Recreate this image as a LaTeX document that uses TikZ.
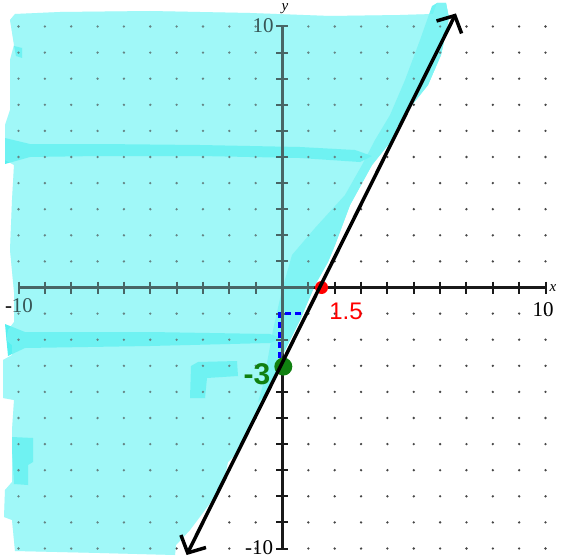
\documentclass[tikz,border=0pt]{standalone}
\usepackage{fontspec}
\setmainfont{Liberation Serif}
\newfontfamily\handfont{Liberation Sans}
\usetikzlibrary{arrows.meta}
\definecolor{hl}{RGB}{160,248,248}
\definecolor{hldark}{RGB}{86,240,240}
\definecolor{hlmid}{RGB}{112,243,243}
\definecolor{hgreen}{RGB}{16,128,16}
\definecolor{dotgray}{RGB}{70,70,70}
\definecolor{axisblack}{RGB}{25,25,25}
\def\hlregion{(15,14) -- (60,12) -- (150,11) -- (250,13) -- (330,16) -- (400,15) -- (433,14) -- (437,3) -- (446,3) -- (449,18) -- (441,55) -- (428,85) -- (412,105) -- (398,125) -- (392,140) -- (372,165) -- (350,205) -- (335,245) -- (328,262) -- (315,285) -- (300,320) -- (285,350) -- (270,385) -- (255,420) -- (240,450) -- (228,462) -- (223,485) -- (205,510) -- (190,530) -- (176,545) -- (175,555) -- (100,553) -- (15,551) -- (12,520) -- (4,517) -- (5,490) -- (12,482) -- (12,430) -- (14,400) -- (3,398) -- (3,360) -- (12,355) -- (12,345) -- (6,340) -- (8,330) -- (14,322) -- (14,292) -- (10,250) -- (12,200) -- (14,165) -- (5,160) -- (5,125) -- (10,110) -- (10,60) -- (14,45) -- (10,20) -- cycle}
\tikzset{
  axisline/.style={axisblack, line width=3pt},
  tickmark/.style={axisblack, line width=2pt},
  axislabel/.style={inner sep=0pt, font=\fontsize{21}{21}\selectfont},
  varlabel/.style={inner sep=0pt, font=\fontsize{15}{15}\selectfont\itshape},
  handline/.style={black, line width=3.5pt, line cap=round,
    {Straight Barb[length=13pt,width=28pt]}-{Straight Barb[length=13pt,width=28pt]}},
  slopedash/.style={blue, line width=2.5pt, dash pattern=on 6pt off 4pt},
}
\begin{document}
\begin{tikzpicture}[x=1pt,y=-1pt]
\useasboundingbox (0,0) rectangle (561,559);
% highlight base
\fill[hl] \hlregion;
% darker overlapping strokes
\fill[hlmid] (432,6) -- (420,40) -- (405,80) -- (390,115) -- (375,140) -- (362,165) -- (345,195) -- (315,228) -- (292,255) -- (282,290) -- (273,330) -- (263,385) -- (258,402) -- (268,392) -- (285,350) -- (300,320) -- (315,285) -- (328,262) -- (335,245) -- (350,205) -- (372,165) -- (392,140) -- (398,125) -- (412,105) -- (428,85) -- (441,55) -- (449,18) -- (446,3) -- (437,3) -- cycle;
\fill[hldark] (5,138) -- (30,144) -- (100,144) -- (200,145) -- (300,147) -- (355,150) -- (372,156) -- (360,162) -- (300,158) -- (200,156) -- (100,156) -- (30,157) -- (5,164) -- cycle;
\fill[hldark] (5,324) -- (25,332) -- (150,332) -- (270,334) -- (282,338) -- (270,343) -- (150,346) -- (25,348) -- (8,356) -- cycle;
\fill[hldark] (191,366) -- (198,362) -- (237,361) -- (238,376) -- (207,378) -- (205,398) -- (190,398) -- cycle;
\fill[hldark] (14,46) -- (22,48) -- (22,58) -- (16,56) -- cycle;
\fill[hldark] (12,437) -- (33,438) -- (33,462) -- (28,465) -- (28,485) -- (14,484) -- (13,466) -- (12,450) -- cycle;
% grid, axes
\begin{scope}[shift={(282,287.5)}, x=26.35pt, y=26.1pt]
  \foreach \i in {-10,...,10} {
    \foreach \j in {-10,...,10} {
      \ifnum\i=0 \else\ifnum\j=0 \else
        \fill[dotgray] (\i,\j) circle[radius=1.3pt];
      \fi\fi
    }
  }
  \draw[axisline] (-10,0) -- (10,0);
  \draw[axisline] (0,-10) -- (0,10);
  \foreach \i in {-10,...,10} {
    \draw[tickmark] (\i,0) ++(0,6pt) -- ++(0,-12pt);
    \draw[tickmark] (0,\i) ++(-6pt,0) -- ++(12pt,0);
  }
  \coordinate (lo) at (-3.62,-10.25);
  \coordinate (hi) at (6.6,10.5);
  \coordinate (d1) at (-0.1,-2.7);
  \coordinate (d2) at (-0.1,-1);
  \coordinate (d3) at (0.75,-1);
  \coordinate (yint) at (0.05,-3.03);
  \coordinate (xint) at (1.5,0);
\end{scope}
% axis labels
\node[varlabel] (ylab) at (285,9) {y};
\node[varlabel] (xlab) at (553,288) {x};
\node[axislabel] (ytop) at (263,26) {10};
\node[axislabel] (ybot) at (259,548) {-10};
\node[axislabel] (xright) at (543,310) {10};
\node[axislabel] (xleft) at (19,306) {-10};
% tint of the highlighter over the printed grid
\fill[hl, fill opacity=0.35] \hlregion;
% hand-drawn marks
\draw[slopedash] (d1) -- (d2) -- (d3);
\fill[red] (xint) circle[radius=6.5pt];
\fill[hgreen] (yint) circle[radius=9pt];
\draw[handline] (lo) -- (hi);
\node[inner sep=0pt, red, font=\handfont\fontsize{24}{24}\selectfont] (lab15) at (346,311) {1.5};
\node[inner sep=0pt, hgreen, font=\handfont\bfseries\fontsize{30}{30}\selectfont] (labm3) at (257,374) {-3};
\end{tikzpicture}
\end{document}
